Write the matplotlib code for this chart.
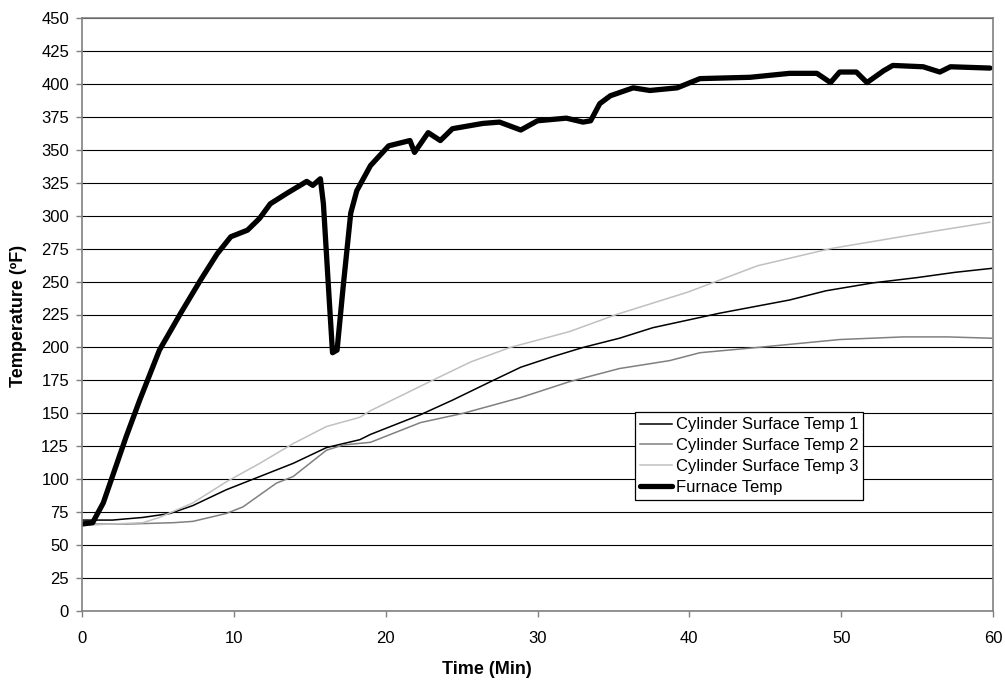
import matplotlib
matplotlib.use('Agg')
import matplotlib.pyplot as plt

# furnace temperature (min, F)
furnace_t = [0, 0.7, 1.4, 2.0, 2.9, 3.8, 5.1, 6.5, 7.8, 8.9, 9.8, 10.9, 11.7, 12.4, 13.5,
             14.8, 15.2, 15.7, 15.9, 16.3, 16.5, 16.8, 17.2, 17.7, 18.1, 19.0, 20.2, 21.6,
             21.9, 22.8, 23.6, 24.4, 26.4, 27.5, 28.9, 30.0, 31.9, 33.0, 33.5, 34.1, 34.8,
             36.3, 37.4, 39.2, 40.7, 44.0, 46.6, 48.4, 49.3, 49.9, 51.0, 51.7, 52.8, 53.4,
             55.4, 56.5, 57.2, 59.8]
furnace_v = [66, 67, 82, 102, 132, 160, 198, 226, 251, 271, 284, 289, 298, 309, 317,
             326, 323, 328, 309, 233, 196, 198, 246, 302, 319, 338, 353, 357,
             348, 363, 357, 366, 370, 371, 365, 372, 374, 371, 372, 385, 391,
             397, 395, 397, 404, 405, 408, 408, 401, 409, 409, 401, 410, 414,
             413, 409, 413, 412]

cyl1_t = [0, 2.0, 4.0, 5.8, 7.3, 9.5, 11.7, 13.9, 16.1, 18.3, 19.0, 22.3, 24.4, 26.9,
          28.9, 31.0, 33.0, 35.4, 37.6, 40.0, 42.0, 46.6, 49.0, 52.1, 55.0, 57.5, 59.9]
cyl1_v = [69, 69, 71, 74, 80, 92, 102, 112, 124, 130, 134, 149, 160, 174,
          185, 193, 200, 207, 215, 221, 226, 236, 243, 249, 253, 257, 260]

cyl2_t = [0, 3.0, 6.0, 7.3, 9.5, 10.6, 11.7, 12.8, 13.9, 15.0, 16.1, 17.2, 19.0, 22.3,
          25.1, 28.9, 32.1, 35.4, 38.7, 40.7, 44.5, 49.9, 54.1, 57.0, 59.9]
cyl2_v = [66, 66, 67, 68, 74, 79, 88, 97, 102, 112, 122, 126, 128, 143,
          150, 162, 174, 184, 190, 196, 200, 206, 208, 208, 207]

cyl3_t = [0, 2.0, 4.0, 5.1, 7.3, 9.5, 11.7, 13.9, 16.1, 18.3, 19.0, 22.9, 25.6, 28.2,
          32.1, 35.2, 39.9, 44.5, 49.3, 52.4, 56.0, 59.8]
cyl3_v = [65, 66, 67, 71, 82, 98, 112, 127, 140, 147, 152, 174, 189, 200,
          212, 225, 242, 262, 275, 281, 288, 295]

labels = ['Cylinder Surface Temp 1', 'Cylinder Surface Temp 2',
          'Cylinder Surface Temp 3', 'Furnace Temp']

plt.rcParams['font.family'] = ['Liberation Sans', 'DejaVu Sans']

fig = plt.figure(figsize=(10.05, 6.83), dpi=100)
ax = fig.add_axes([82 / 1005, 1 - 611 / 683, 911 / 1005, 593 / 683])

ax.plot(cyl1_t, cyl1_v, color='black', lw=1.1, label=labels[0])
ax.plot(cyl2_t, cyl2_v, color='#808080', lw=1.1, label=labels[1])
ax.plot(cyl3_t, cyl3_v, color='#c0c0c0', lw=1.1, label=labels[2])
ax.plot(furnace_t, furnace_v, color='black', lw=3.8, label=labels[3],
        solid_joinstyle='round', solid_capstyle='round')

ax.set_xlim(0, 60)
ax.set_ylim(0, 450)
ax.set_xticks(range(0, 61, 10))
ax.set_yticks(range(0, 451, 25))
ax.yaxis.grid(True, color='black', lw=0.8)
ax.set_axisbelow(True)
ax.tick_params(direction='out', length=4.3, width=1, color='#808080', labelsize=12)
ax.tick_params(axis='y', pad=5)
ax.tick_params(axis='x', pad=10)
for s in ax.spines.values():
    s.set_color('#808080')
    s.set_linewidth(1.2)

# axis titles placed where the original has them
fig.text(487 / 1005, 1 - 670 / 683, 'Time (Min)', ha='center', va='center',
         family=['Liberation Sans Narrow', 'Liberation Sans'], weight='bold', size=13)
fig.text(19 / 1005, 1 - 316 / 683, 'Temperature (ºF)', ha='center', va='center',
         rotation=90, weight='bold', size=13)

leg = ax.legend(loc='upper left', bbox_to_anchor=(0.607, 0.335), fontsize=12,
                frameon=True, fancybox=False, borderaxespad=0,
                handlelength=1.9, handletextpad=0.25, labelspacing=0.35,
                borderpad=0.3)
leg.get_frame().set_edgecolor('black')
leg.get_frame().set_linewidth(0.9)
leg.get_frame().set_alpha(1)

fig.savefig('out.png', dpi=100)
